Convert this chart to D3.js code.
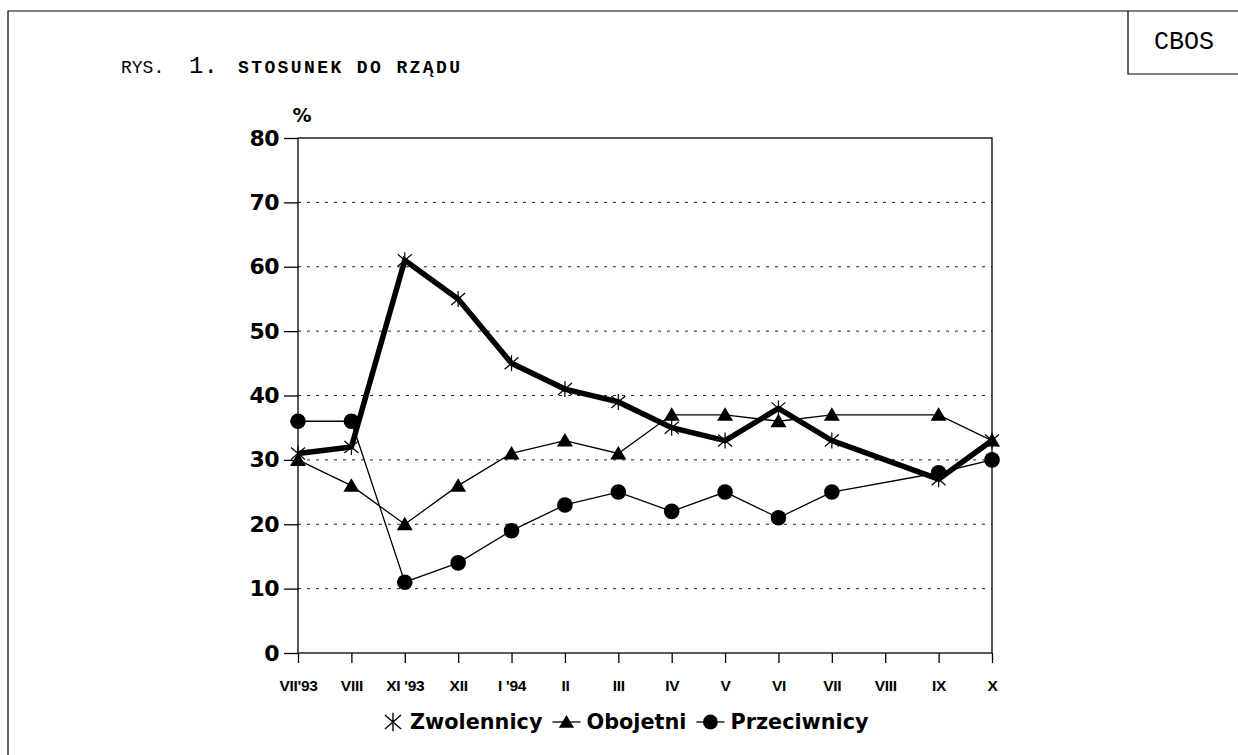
<!DOCTYPE html>
<html>
<head>
<meta charset="utf-8">
<script src="https://cdn.jsdelivr.net/npm/d3@7"></script>
<style>
  body { margin: 0; background: #fff; }
  svg { display: block; }
</style>
</head>
<body>
<div id="chart"></div>
<script>
// ---------------- data ----------------
const categories = ["VII'93", "VIII", "XI '93", "XII", "I '94", "II", "III", "IV", "V", "VI", "VII", "VIII", "IX", "X"]
const zwolennicy  = [31, 32, 61, 55, 45, 41, 39, 35, 33, 38, 33, null, 27, 33]
const obojetni    = [30, 26, 20, 26, 31, 33, 31, 37, 37, 36, 37, null, 37, 33]
const przeciwnicy = [36, 36, 11, 14, 19, 23, 25, 22, 25, 21, 25, null, 28, 30]
const yTicks = [0, 10, 20, 30, 40, 50, 60, 70, 80]
const seriesNames = ["Zwolennicy", "Obojetni", "Przeciwnicy"]

// ---------------- sizes ----------------
const WIDTH = 1238
const HEIGHT = 755
const PLOT_LEFT = 298
const PLOT_RIGHT = 992
const PLOT_TOP = 138
const PLOT_BOTTOM = 653
const CHART_FONT = "'DejaVu Sans', sans-serif"
const MONO_FONT = "'Liberation Mono', monospace"

const svg = d3.select("#chart").append("svg")
    .attr("width", WIDTH)
    .attr("height", HEIGHT)

// page frame + CBOS box
svg.append("path")
    .attr("d", `M8,${HEIGHT} V11 H${WIDTH}`)
    .attr("fill", "none").attr("stroke", "#000").attr("stroke-width", 1.2)
svg.append("path")
    .attr("d", `M1128,11 V74 H${WIDTH}`)
    .attr("fill", "none").attr("stroke", "#000").attr("stroke-width", 1.2)
svg.append("text")
    .attr("x", 1184).attr("y", 49)
    .attr("text-anchor", "middle")
    .style("font-family", MONO_FONT).style("font-size", "25px")
    .text("CBOS")

// title
const title = svg.append("g").style("font-family", MONO_FONT)
title.append("text").attr("x", 121).attr("y", 73).style("font-size", "18px").text("RYS.")
title.append("text").attr("x", 189).attr("y", 73).style("font-size", "24px").text("1.")
title.append("text").attr("x", 238).attr("y", 73)
    .style("font-size", "18px").style("font-weight", "bold").style("letter-spacing", "2.4px")
    .text("STOSUNEK DO RZĄDU")

// ---------------- scales ----------------
const x = d3.scalePoint()
    .domain(d3.range(categories.length))
    .range([PLOT_LEFT, PLOT_RIGHT])

const y = d3.scaleLinear()
    .domain([0, 80])
    .range([PLOT_BOTTOM, PLOT_TOP])

// grid lines (dotted)
svg.append("g")
    .selectAll("line")
    .data(yTicks.filter(d => d > 0 && d < 80))
    .join("line")
    .attr("x1", PLOT_LEFT).attr("x2", PLOT_RIGHT)
    .attr("y1", d => y(d)).attr("y2", d => y(d))
    .attr("stroke", "#222").attr("stroke-width", 1)
    .attr("stroke-dasharray", "3,6")

// plot frame
svg.append("rect")
    .attr("x", PLOT_LEFT).attr("y", PLOT_TOP)
    .attr("width", PLOT_RIGHT - PLOT_LEFT).attr("height", PLOT_BOTTOM - PLOT_TOP)
    .attr("fill", "none").attr("stroke", "#000").attr("stroke-width", 1.3)

// y axis
const yAxis = svg.append("g")
    .attr("transform", `translate(${PLOT_LEFT},0)`)
    .call(d3.axisLeft(y).tickValues(yTicks).tickSize(14).tickPadding(5).tickSizeOuter(0))
yAxis.select(".domain").remove()
yAxis.selectAll(".tick line").attr("stroke", "#000").attr("stroke-width", 1.3)
yAxis.selectAll(".tick text")
    .style("font-family", CHART_FONT).style("font-size", "22px").style("font-weight", "bold")
    .style("letter-spacing", "-0.5px")
    .attr("fill", "#000")

svg.append("text")
    .attr("x", 302).attr("y", 122)
    .attr("text-anchor", "middle")
    .style("font-family", CHART_FONT).style("font-size", "19px").style("font-weight", "bold")
    .text("%")

// x axis
const xAxis = svg.append("g")
    .attr("transform", `translate(0,${PLOT_BOTTOM})`)
    .call(d3.axisBottom(x).tickFormat(i => categories[i]).tickSize(10).tickPadding(17).tickSizeOuter(0))
xAxis.select(".domain").remove()
xAxis.selectAll(".tick line").attr("stroke", "#000").attr("stroke-width", 1.3)
xAxis.selectAll(".tick text")
    .style("font-family", "'Liberation Sans', sans-serif").style("font-size", "15.5px").style("font-weight", "bold")
    .style("letter-spacing", "-0.3px")
    .attr("fill", "#000")

// ---------------- series ----------------
const asteriskPath = "M0,-8V8M-7,-6L7,6M-7,6L7,-6"
const trianglePath = "M0,-7.5L8,6L-8,6Z"

const series = [
    {name: seriesNames[0], values: zwolennicy, width: 5.5, marker: "asterisk"},
    {name: seriesNames[1], values: obojetni, width: 1.3, marker: "triangle"},
    {name: seriesNames[2], values: przeciwnicy, width: 1.3, marker: "circle"}
]

const line = d3.line()
    .x(d => x(d.i))
    .y(d => y(d.v))

function drawMarker(g, type) {
    if (type === "asterisk") {
        g.append("path").attr("d", asteriskPath)
            .attr("fill", "none").attr("stroke", "#000").attr("stroke-width", 1.2)
    } else if (type === "triangle") {
        g.append("path").attr("d", trianglePath).attr("fill", "#000")
    } else {
        g.append("circle").attr("r", 7.8).attr("fill", "#000")
    }
}

series.forEach(s => {
    const pts = s.values.map((v, i) => ({i: i, v: v})).filter(d => d.v !== null)
    svg.append("path")
        .datum(pts)
        .attr("d", line)
        .attr("fill", "none")
        .attr("stroke", "#000")
        .attr("stroke-width", s.width)
        .attr("stroke-linejoin", "miter")
})

series.forEach(s => {
    const pts = s.values.map((v, i) => ({i: i, v: v})).filter(d => d.v !== null)
    svg.append("g")
        .selectAll("g")
        .data(pts)
        .join("g")
        .attr("transform", d => `translate(${x(d.i)},${y(d.v)})`)
        .each(function() { drawMarker(d3.select(this), s.marker) })
})

// ---------------- legend ----------------
const legend = svg.append("g")
    .style("font-family", CHART_FONT).style("font-size", "20.8px").style("font-weight", "bold")
let lx = 384
const LEGEND_Y = 729
series.forEach((s, k) => {
    const item = legend.append("g")
    if (s.marker === "asterisk") {
        const m = item.append("g").attr("transform", `translate(${lx + 9},${LEGEND_Y - 7}) scale(1.15)`)
        drawMarker(m, s.marker)
        lx += 26
    } else {
        item.append("line")
            .attr("x1", lx).attr("x2", lx + 28)
            .attr("y1", LEGEND_Y - 7).attr("y2", LEGEND_Y - 7)
            .attr("stroke", "#000").attr("stroke-width", 1.3)
        const m = item.append("g").attr("transform", `translate(${lx + 14},${LEGEND_Y - 7}) scale(0.95)`)
        drawMarker(m, s.marker)
        lx += 34
    }
    const t = item.append("text").attr("x", lx).attr("y", LEGEND_Y).text(s.name)
    lx += t.node().getComputedTextLength() + 10
})
</script>
</body>
</html>
